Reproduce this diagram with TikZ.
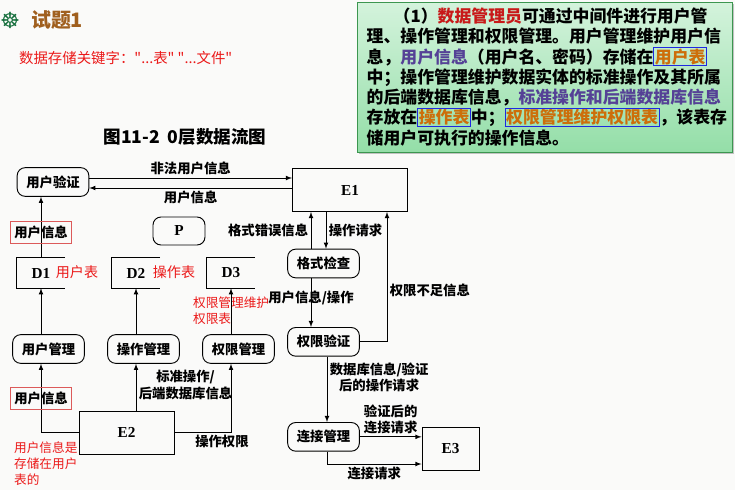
\documentclass[tikz,border=0pt]{standalone}
\usepackage{fontspec}
\setmainfont{Noto Sans CJK SC}
\newfontfamily\latinb{Liberation Serif}
\newfontfamily\symfont{DejaVu Sans}
\usetikzlibrary{shapes.geometric, arrows, shadows}

\definecolor{bgcol}{RGB}{250,250,249}
\definecolor{titlebrown}{RGB}{160,95,30}
\definecolor{wheelgreen}{RGB}{20,110,60}
\definecolor{annored}{RGB}{235,25,25}
\definecolor{redframe}{RGB}{220,90,90}
\definecolor{boxtop}{RGB}{212,243,220}
\definecolor{boxbot}{RGB}{148,222,168}
\definecolor{boxedge}{RGB}{60,150,80}
\definecolor{dred}{RGB}{200,25,25}
\definecolor{purp}{RGB}{85,65,150}
\definecolor{orng}{RGB}{205,110,10}
\definecolor{boxblue}{RGB}{30,40,225}

\newcommand\bbox[1]{{\setlength\fboxsep{0.5pt}\setlength\fboxrule{0.8pt}\color{boxblue}\fbox{\textcolor{orng}{#1}}}}
\newcommand\dq{\textquotedbl}

\tikzstyle{proc} = [rectangle, rounded corners=0.24cm, minimum width=2.15cm, minimum height=0.86cm, text centered, draw=black, line width=0.8pt, font=\fontsize{11.4pt}{13pt}\selectfont\bfseries]
\tikzstyle{ext} = [rectangle, minimum height=1.29cm, draw=black, line width=0.8pt, font=\latinb\fontsize{13pt}{15pt}\selectfont\bfseries]
\tikzstyle{store} = [rectangle, minimum width=1.44cm, minimum height=0.9cm, font=\latinb\fontsize{13pt}{15pt}\selectfont\bfseries]
\tikzstyle{lbl} = [inner sep=2pt, font=\fontsize{11.4pt}{14pt}\selectfont\bfseries]
\tikzstyle{redbox} = [lbl, draw=redframe, line width=0.6pt, inner xsep=3.5pt, inner ysep=4pt]
\tikzstyle{note} = [text=annored, font=\fontsize{10.8pt}{13.5pt}\selectfont]
\tikzstyle{notebox} = [rectangle, draw=boxedge, line width=0.8pt, top color=boxtop, bottom color=boxbot, minimum width=11.25cm, minimum height=4.5cm, text width=10.7cm, align=left, drop shadow={shadow xshift=1.5pt, shadow yshift=-2pt, opacity=0.45}, font=\fontsize{14.4pt}{17.3pt}\selectfont\bfseries]
\tikzstyle{arrow} = [line width=0.8pt,->,>=latex]

\begin{document}
\begin{tikzpicture}[x=0.03cm, y=-0.03cm, node distance=2.85cm]
	\useasboundingbox (0,0) rectangle (735,490);
	\fill[bgcol] (0,0) rectangle (735,490);

	% heading and explanation
	\node (wheel) [text=wheelgreen, inner sep=0pt, font=\symfont\fontsize{19pt}{19pt}\selectfont] at (10,20) {☸};
	\node (title) [anchor=west, text=titlebrown, font=\fontsize{17pt}{20pt}\selectfont\bfseries] at (27,20) {试题1};
	\node (key) [anchor=west, text=annored, font=\fontsize{12.3pt}{14pt}\selectfont] at (15,58) {数据存储关键字：\dq...表\dq\ \dq...文件\dq};
	\node (box) [notebox] at (545,77) {\hspace*{1.6em}（1）\textcolor{dred}{数据管理员}可通过中间件进行用户管\\
	理、操作管理和权限管理。用户管理维护用户信\\
	息，\textcolor{purp}{用户信息}（用户名、密码）存储在\bbox{用户表}\\
	中；操作管理维护数据实体的标准操作及其所属\\
	的后端数据库信息，\textcolor{purp}{标准操作和后端数据库信息}\\
	存放在\bbox{操作表}中；\bbox{权限管理维护权限表}，该表存\\
	储用户可执行的操作信息。};
	\node (fig) [font=\fontsize{15pt}{17pt}\selectfont\bfseries] at (185,137) {图11-2\hspace{0.45em}0层数据流图};

	% processes, stores, entities
	\node (yz) [proc] at (53,182) {用户验证};
	\node (e1) [ext, minimum width=3.45cm] at (350,190) {E1};
	\node (p) [proc, minimum width=1.56cm, minimum height=0.84cm, font=\latinb\fontsize{13pt}{15pt}\selectfont\bfseries] at (179,231) {P};
	\node (d1) [store] at (41,273) {D1};
	\node (d2) [store, right of=d1] {D2};
	\node (d3) [store, right of=d2] {D3};
	\node (um) [proc] at (48.5,349) {用户管理};
	\node (cz) [proc, right of=um] {操作管理};
	\node (qg) [proc, right of=cz] {权限管理};
	\node (e2) [ext, minimum width=2.85cm] at (126.5,432.5) {E2};
	\node (gs) [proc] at (323.5,263.5) {格式检查};
	\node (qy) [proc, below of=gs, yshift=0.5cm] {权限验证};
	\node (lj) [proc, below of=qy] {连接管理};
	\node (e3) [ext, minimum width=1.71cm] at (450.5,448.5) {E3};

	\foreach \d in {d1,d2,d3}
		\draw[line width=0.8pt] (\d.north east) -- (\d.north west) -- (\d.south west) -- (\d.south east);

	% red notes
	\node (n1) [note, font=\fontsize{12pt}{14pt}\selectfont] at (77,272) {用户表};
	\node (n2) [note, font=\fontsize{12pt}{14pt}\selectfont] at (174,272) {操作表};
	\node (n3) [note, anchor=north west, align=left] at (189,293) {权限管理维护\\权限表};
	\node (n4) [note, anchor=north west, align=left] at (10,438) {用户信息是\\存储在用户\\表的};

	% helper coordinates
	\coordinate (xa) at (311,0);
	\coordinate (xb) at (326,0);
	\coordinate (xc) at (387,0);
	\coordinate (xd) at (327,0);
	\coordinate (ya) at (0,178);
	\coordinate (yb) at (0,188);
	\coordinate (yc) at (0,464);

	% flows
	\draw [arrow] (yz.east |- ya) -- node[lbl, above] {非法用户信息} (e1.west |- ya);
	\draw [arrow] (e1.west |- yb) -- node[lbl, below] {用户信息} (yz.east |- yb);
	\draw [arrow] (d1.north) -- node[redbox, pos=0.42] {用户信息} (d1.north |- yz.south);
	\draw [arrow] (d1.south |- um.north) -- (d1.south);
	\draw [arrow] (d2.south |- cz.north) -- (d2.south);
	\draw [arrow] (d3.south |- qg.north) -- (d3.south);
	\draw [arrow] (e2.west) -| node[redbox, pos=0.75] {用户信息} (d1.south |- um.south);
	\draw [arrow] (e2.north -| d2.south) -- node[lbl, right, align=center, pos=0.55] {标准操作/\\后端数据库信息} (d2.south |- cz.south);
	\draw [arrow] (e2.east) -| node[lbl, below, pos=0.42] {操作权限} (d3.south |- qg.south);

	\draw [arrow] (gs.north -| xa) -- node[lbl, left] {格式错误信息} (e1.south -| xa);
	\draw [arrow] (e1.south -| xb) -- node[lbl, right] {操作请求} (gs.north -| xb);
	\draw [arrow] (gs.south -| xa) -- node[lbl, pos=0.4] {用户信息/操作} (qy.north -| xa);
	\draw [arrow] (qy.east) -| node[lbl, right, pos=0.7] {权限不足信息} (e1.south -| xc);
	\draw [arrow] (qy.south -| xd) -- node[lbl, right, align=center, pos=0.32] {数据库信息/验证\\后的操作请求} (lj.north -| xd);
	\draw [arrow] (lj.east) -- node[lbl, above, align=center] {验证后的\\连接请求} (lj.east -| e3.west);
	\draw [arrow] (lj.south -| xd) |- node[lbl, below, pos=0.75] {连接请求} (e3.west |- yc);
\end{tikzpicture}
\end{document}
